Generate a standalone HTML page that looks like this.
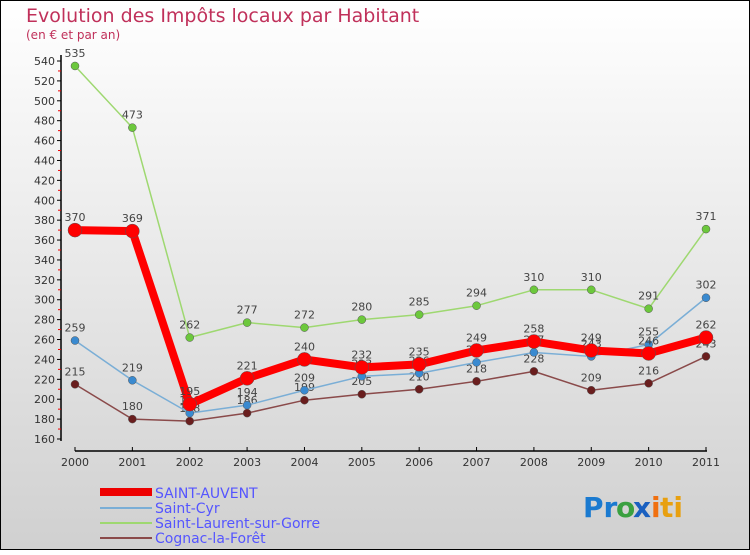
<!DOCTYPE html>
<html><head><meta charset="utf-8"><style>
body{margin:0}
svg text{font-family:"DejaVu Sans","Liberation Sans",sans-serif}
</style></head><body>
<svg width="750" height="550" viewBox="0 0 750 550" xmlns="http://www.w3.org/2000/svg">
<defs><linearGradient id="bg" x1="0" y1="0" x2="0" y2="1"><stop offset="0" stop-color="#ffffff"/><stop offset="1" stop-color="#d0d0d0"/></linearGradient></defs>
<rect x="0.5" y="0.5" width="749" height="549" fill="url(#bg)" stroke="#000"/>
<text x="26" y="22" font-size="19" fill="#c0305a">Evolution des Impôts locaux par Habitant</text>
<text x="26" y="39" font-size="12" fill="#c0305a">(en € et par an)</text>
<g id="axes"></g>
<g id="series"></g>
<g id="legend">
<rect x="100" y="488" width="52" height="8" fill="#e00"/>
<text x="155" y="498" font-size="14" fill="#55f">SAINT-AUVENT</text>
<line x1="100" y1="508" x2="152" y2="508" stroke="#7aaed6" stroke-width="2"/>
<text x="155" y="513" font-size="14" fill="#55f">Saint-Cyr</text>
<line x1="100" y1="523" x2="152" y2="523" stroke="#9ed870" stroke-width="2"/>
<text x="155" y="528" font-size="14" fill="#55f">Saint-Laurent-sur-Gorre</text>
<line x1="100" y1="538" x2="152" y2="538" stroke="#8a4a4a" stroke-width="2"/>
<text x="155" y="543" font-size="14" fill="#55f">Cognac-la-Forêt</text>
</g>
<g font-size="28" font-weight="bold">
<text x="583" y="517" fill="#1a7ad0">Pr</text><text x="616" y="517" fill="#3aa040">o</text><text x="633" y="517" fill="#1a60c0">x</text><text x="651" y="517" fill="#f07010">i</text><text x="660" y="517" fill="#e8a010">ti</text>
</g>
</svg>
<script>
const years=["2000","2001","2002","2003","2004","2005","2006","2007","2008","2009","2010","2011"];
const yTicks=[160,180,200,220,240,260,280,300,320,340,360,380,400,420,440,460,480,500,520,540];
const saintAuvent=[370,369,195,221,240,232,235,249,258,249,246,262];
const saintCyr=[259,219,186,194,209,223,226,237,247,243,255,302];
const saintLaurent=[535,473,262,277,272,280,285,294,310,310,291,371];
const cognac=[215,180,178,186,199,205,210,218,228,209,216,243];
const NS="http://www.w3.org/2000/svg";
const X=i=>75+i*(706-75)/11;
const Y=v=>61+(540-v)*(378/380);
function mk(t,a,p){const e=document.createElementNS(NS,t);for(const k in a)e.setAttribute(k,a[k]);p.appendChild(e);return e;}
const ax=document.getElementById('axes');
const yl=mk('line',{x1:61,y1:55,x2:61,y2:441,stroke:'#000','stroke-width':1.5},ax);


yTicks.forEach(v=>{
  mk('line',{x1:57,y1:Y(v),x2:61,y2:Y(v),stroke:'#000'},ax);
  if(v<540) mk('line',{x1:58,y1:Y(v+10),x2:61,y2:Y(v+10),stroke:'#e00'},ax);
  const t=mk('text',{x:55,y:Y(v)+4,'font-size':11,fill:'#333','text-anchor':'end'},ax);
  t.textContent=v;
  
  
});
const xl=mk('line',{x1:75,y1:451,x2:707,y2:451,stroke:'#000','stroke-width':1.5},ax);


years.forEach((y,i)=>{
  mk('line',{x1:X(i),y1:447,x2:X(i),y2:451,stroke:'#000'},ax);
  const t=mk('text',{x:X(i),y:466,'font-size':11,fill:'#333','text-anchor':'middle'},ax);
  t.textContent=y;
  
  
});
const sg=document.getElementById('series');
function draw(data,color,w,r,name,dot){
  const g=mk('g',{},sg);
  
  
  const pts=data.map((v,i)=>X(i)+','+Y(v)).join(' ');
  const pl=mk('polyline',{points:pts,fill:'none',stroke:color,'stroke-width':w,'stroke-linejoin':'round'},g);
  
  
  data.forEach((v,i)=>{
    const c=mk('circle',{cx:X(i),cy:Y(v),r:r,fill:dot,stroke:'#555','stroke-width':0.5},g);
    
    
    const t=mk('text',{x:X(i),y:Y(v)-9,'font-size':11,fill:'#444','text-anchor':'middle'},g);
    t.textContent=v;
    
    
  });
}
draw(cognac,'#8a4a4a',1.5,4,'cognac','#6a1e1e');
draw(saintLaurent,'#9ed870',1.5,4,'saint-laurent','#6cc83c');
draw(saintCyr,'#7aaed6',1.5,4,'saint-cyr','#3a8ad0');
draw(saintAuvent,'#f00',8,7,'saint-auvent','#f00');
</script>
</body></html>
